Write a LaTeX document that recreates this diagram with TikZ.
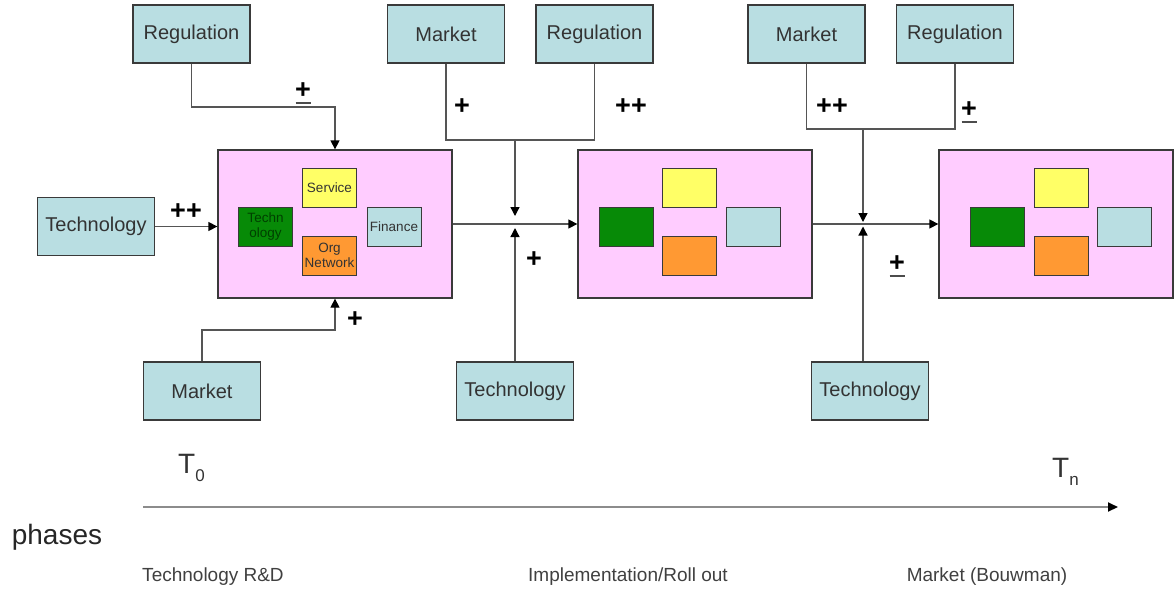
\documentclass[tikz,border=0pt]{standalone}
\usepackage{fontspec}
\setmainfont{Liberation Sans}
\usetikzlibrary{arrows.meta}
\definecolor{boxblue}{HTML}{B9DEE2}
\definecolor{phasepink}{HTML}{FFCCFF}
\definecolor{tgreen}{HTML}{078A07}
\definecolor{syellow}{HTML}{FFFF66}
\definecolor{norange}{HTML}{FF9933}
\definecolor{edgegray}{HTML}{3A3A3A}
\definecolor{linegray}{HTML}{555555}
\definecolor{txtgray}{HTML}{333333}
\newcommand{\plusminus}{\shortstack{+\\[1pt]{\color{black!70}\rule{15pt}{1.6pt}}}}
\tikzset{
  actor/.style={draw=edgegray, line width=1.3pt, fill=boxblue, inner sep=0pt,
    minimum width=117pt, minimum height=58pt, text=txtgray,
    font=\fontsize{20}{24}\selectfont},
  phasebox/.style={draw=edgegray, line width=1.3pt, fill=phasepink, inner sep=0pt,
    minimum width=234pt, minimum height=148pt},
  part/.style={draw=edgegray, line width=1pt, inner sep=0pt,
    minimum width=54pt, minimum height=39pt, align=center,
    font=\fontsize{13.5}{15}\selectfont, text=txtgray},
  conn/.style={draw=linegray, line width=1.3pt},
  arr/.style={conn, -{Triangle[length=9pt,width=9pt,color=black]}},
  sign/.style={font=\bfseries\fontsize{27}{27}\selectfont, inner sep=0pt},
  phase/.style={font=\fontsize{19}{22}\selectfont, text=black!75},
}
\begin{document}
\begin{tikzpicture}[x=1pt,y=-1pt]
\useasboundingbox (0,0) rectangle (1176,590);

% actor boxes
\node[actor] (reg1) at (191.5,34) {Regulation};
\node[actor] (mkt2) at (446,34) {Market};
\node[actor] (reg2) at (594.5,34) {Regulation};
\node[actor] (mkt3) at (806.5,34) {Market};
\node[actor] (reg3) at (955,34) {Regulation};
\node[actor] (tech1) at (96,226.5) {Technology};
\node[actor] (mkt1) at (202,391) {Market};
\node[actor] (tech2) at (515,391) {Technology};
\node[actor] (tech3) at (870,391) {Technology};

% phase boxes
\node[phasebox] (p1) at (335,224) {};
\node[phasebox] (p2) at (695,224) {};
\node[phasebox] (p3) at (1056,224) {};

% parts of the first phase
\node[part, fill=syellow] (s1) at (329.5,187.5) {Service};
\node[part, fill=tgreen, text=green!25!black] (t1) at (265.5,226.5) {Techn\\ology};
\node[part, fill=norange] (o1) at (329.5,255.5) {Org\\Network};
\node[part, fill=boxblue] (f1) at (394,226.5) {Finance};
% parts of the second phase
\node[part, fill=syellow] (s2) at (689.5,187.5) {};
\node[part, fill=tgreen] (t2) at (626,226.5) {};
\node[part, fill=norange] (o2) at (689.5,255.5) {};
\node[part, fill=boxblue] (f2) at (753,226.5) {};
% parts of the third phase
\node[part, fill=syellow] (s3) at (1061,187.5) {};
\node[part, fill=tgreen] (t3) at (997,226.5) {};
\node[part, fill=norange] (o3) at (1061,255.5) {};
\node[part, fill=boxblue] (f3) at (1124,226.5) {};

% influences on the first phase
\draw[arr] (reg1.south) -- (reg1.south |- 0,107) -| (p1.north);
\draw[arr] (tech1.east) -- (p1.west |- tech1.east);
\draw[arr] (mkt1.north) -- (mkt1.north |- 0,330) -| (p1.south);

% transitions between phases
\draw[arr] (p1.east) -- (p2.west);
\draw[arr] (p2.east) -- (p3.west);

% influences on the second transition
\coordinate (j2top) at (515,140);
\coordinate (j2dn) at (515,216);
\coordinate (j2up) at (515,228);
\draw[conn] (mkt2.south) -- (mkt2.south |- j2top) -| (reg2.south);
\draw[arr] (j2top) -- (j2dn);
\draw[arr] (tech2.north) -- (j2up);

% influences on the third transition
\coordinate (j3top) at (863,129);
\coordinate (j3dn) at (863,222);
\coordinate (j3up) at (863,226.5);
\draw[conn] (mkt3.south) -- (mkt3.south |- j3top) -| (reg3.south);
\draw[arr] (j3top) -- (j3dn);
\draw[arr] (tech3.north -| j3up) -- (j3up);

% strength of each influence
\node[sign] (g1) at (303,93) {\plusminus};
\node[sign] (g2) at (186,212) {++};
\node[sign] (g3) at (355,320) {+};
\node[sign] (g4) at (462,107) {+};
\node[sign] (g5) at (631,107) {++};
\node[sign] (g6) at (534,260) {+};
\node[sign] (g7) at (832,107) {++};
\node[sign] (g8) at (969,112) {\plusminus};
\node[sign] (g9) at (897,266) {\plusminus};

% time line
\node[font=\fontsize{28}{28}\selectfont, text=txtgray, anchor=base west, inner sep=0pt] (t0) at (178,473)
  {T\raisebox{-8pt}{\fontsize{17}{17}\selectfont 0}};
\node[font=\fontsize{28}{28}\selectfont, text=txtgray, anchor=base west, inner sep=0pt] (tn) at (1052,477)
  {T\raisebox{-8pt}{\fontsize{17}{17}\selectfont n}};
\coordinate (tstart) at (143,507);
\coordinate (tend) at (1118,507);
\draw[draw=black!45, line width=2pt, -{Triangle[length=10pt,width=9pt,color=black]}] (tstart) -- (tend);
\node[font=\fontsize{28}{30}\selectfont, text=black!85] (ph) at (57,537) {phases};
\node[phase] (ph1) at (213,577) {Technology R\&D};
\node[phase] (ph2) at (628,577) {Implementation/Roll out};
\node[phase] (ph3) at (987,577) {Market (Bouwman)};
\end{tikzpicture}
\end{document}
